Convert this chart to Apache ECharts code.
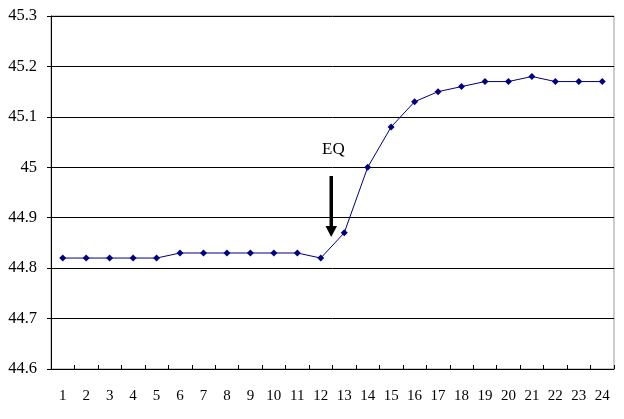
<!DOCTYPE html>
<html>
<head>
<meta charset="utf-8">
<script src="https://cdn.jsdelivr.net/npm/echarts@6/dist/echarts.min.js"></script>
<style>html,body{margin:0;padding:0;background:#fff}#c{width:624px;height:419px}</style>
</head>
<body>
<div id="c"></div>
<script>
var categories = ['1','2','3','4','5','6','7','8','9','10','11','12','13','14','15','16','17','18','19','20','21','22','23','24'];
var values = [44.82,44.82,44.82,44.82,44.82,44.83,44.83,44.83,44.83,44.83,44.83,44.82,44.87,45.00,45.08,45.13,45.15,45.16,45.17,45.17,45.18,45.17,45.17,45.17];
var yTicks = [44.6,44.7,44.8,44.9,45,45.1,45.2,45.3];
var annotation = 'EQ';

var chart = echarts.init(document.getElementById('c'), null, {renderer:'canvas'});
var font = '"Liberation Serif", "Times New Roman", serif';
chart.setOption({
  animation:false,
  backgroundColor:'#fff',
  grid:{left:51,right:10,top:16,bottom:50,show:true,borderColor:'#999',borderWidth:1,backgroundColor:'transparent'},
  xAxis:{type:'category',data:categories,boundaryGap:true,
    axisLine:{lineStyle:{color:'#000',width:1}},
    axisTick:{show:true,inside:true,length:4,lineStyle:{color:'#000'}},
    axisLabel:{color:'#000',fontFamily:font,fontSize:15,margin:20,interval:0},
    splitLine:{show:false}},
  yAxis:{type:'value',min:44.6,max:45.3,interval:0.1,
    axisLine:{show:true,lineStyle:{color:'#000',width:1}},
    axisTick:{show:true,length:4,lineStyle:{color:'#000'}},
    axisLabel:{color:'#000',fontFamily:font,fontSize:16.5,margin:14,
      formatter:function(v){var r=Math.round(v*10)/10; return yTicks.indexOf(r)>=0 ? String(r) : '';}},
    splitLine:{show:true,lineStyle:{color:'#000',width:1}}},
  series:[{type:'line',data:values,symbol:'diamond',symbolSize:7,
    lineStyle:{color:'#000080',width:1},itemStyle:{color:'#000080'}}],
  graphic:[
    {type:'text',left:322,top:141,style:{text:annotation,fill:'#000',font:'17px '+font}},
    {type:'rect',shape:{x:329.5,y:176,width:3.5,height:51},style:{fill:'#000'}},
    {type:'polygon',shape:{points:[[325.5,226],[337,226],[331.2,237]]},style:{fill:'#000'}}
  ]
});
</script>
</body>
</html>
